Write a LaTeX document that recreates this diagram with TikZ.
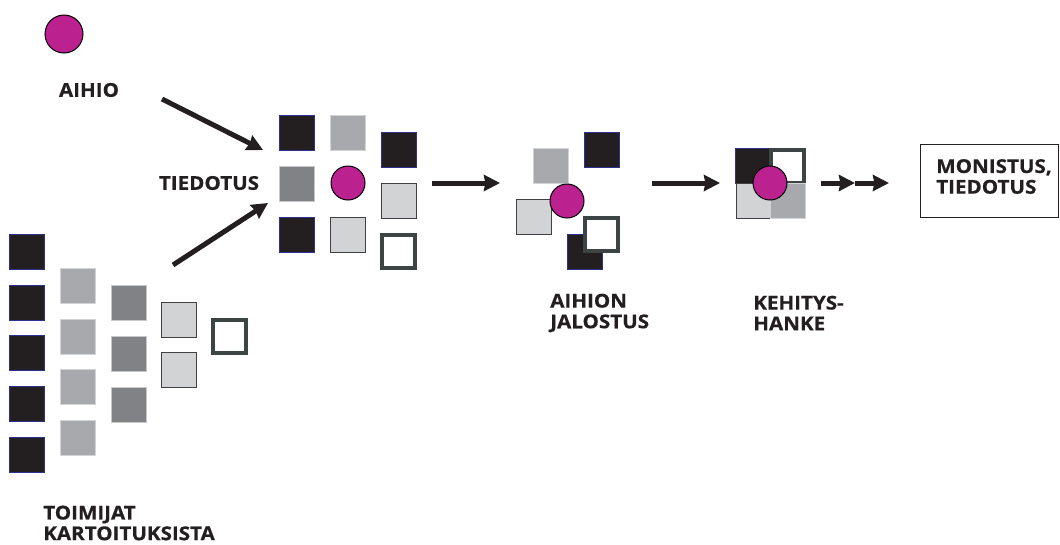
\documentclass[tikz,border=0pt]{standalone}
\usepackage{fontspec}
\setmainfont{Open Sans}[BoldFont={* Bold},BoldFeatures={FakeStretch=1.08,FakeBold=0.6}]
\usetikzlibrary{arrows.meta}
\definecolor{sqblack}{HTML}{231F20}
\definecolor{sqblue}{HTML}{2E3192}
\definecolor{sqgray}{HTML}{A7A9AC}
\definecolor{sqgrayb}{HTML}{D1D3D4}
\definecolor{sqdark}{HTML}{808285}
\definecolor{sqdarkb}{HTML}{C7C8CA}
\definecolor{sqlight}{HTML}{D1D3D4}
\definecolor{sqlightb}{HTML}{414042}
\definecolor{sqopen}{HTML}{3C4444}
\definecolor{magen}{HTML}{BB2290}
\tikzset{
  sq/.style={rectangle,minimum size=26.25pt,inner sep=0pt,line width=0.75pt},
  blk/.style={sq,fill=sqblack,draw=sqblue},
  gry/.style={sq,fill=sqgray,draw=sqgrayb},
  drk/.style={sq,fill=sqdark,draw=sqdarkb},
  lgt/.style={sq,fill=sqlight,draw=sqlightb},
  opn/.style={rectangle,minimum size=24.75pt,inner sep=0pt,line width=3pt,fill=white,draw=sqopen},
  dot/.style={circle,minimum size=25.5pt,inner sep=0pt,fill=magen,draw=black,line width=0.75pt},
  lbl/.style={font=\fontsize{14.3}{15.5}\selectfont\bfseries,text=sqblack,align=left,inner sep=0pt},
  arr/.style={draw=sqblack,line width=3.75pt,-{Stealth[length=12pt,width=12pt,inset=1pt]}},
}
\begin{document}
\begin{tikzpicture}[x=0.75pt,y=-0.75pt]
\useasboundingbox (0,0) rectangle (1060,544);
% top circle
\node[dot,minimum size=28.5pt] (aihiodot) at (64,34) {};
\node[lbl] (aihio) at (89,90) {AIHIO};
\node[lbl] (tiedotus) at (209,183) {TIEDOTUS};
% left field
\node[blk] (c11) at (26.5,251.5) {};
\node[blk] (c12) at (26.5,302.5) {};
\node[blk] (c13) at (26.5,352.5) {};
\node[blk] (c14) at (26.5,403.5) {};
\node[blk] (c15) at (26.5,454.5) {};
\node[gry] (c21) at (77.5,285.5) {};
\node[gry] (c22) at (77.5,336.5) {};
\node[gry] (c23) at (77.5,386.5) {};
\node[gry] (c24) at (77.5,437.5) {};
\node[drk] (c31) at (128.5,302.5) {};
\node[drk] (c32) at (128.5,353.5) {};
\node[drk] (c33) at (128.5,404.5) {};
\node[lgt] (c41) at (178.5,319.5) {};
\node[lgt] (c42) at (178.5,369.5) {};
\node[opn] (c51) at (229.5,336) {};
\node[lbl,anchor=west] (toimijat) at (43,523) {TOIMIJAT\\KARTOITUKSISTA};
% middle group
\node[blk] (m11) at (297,133) {};
\node[gry] (m12) at (348,133) {};
\node[blk] (m13) at (398.5,150) {};
\node[drk] (m21) at (297,184) {};
\node[dot] (m22) at (348,183) {};
\node[lgt] (m23) at (398.5,200.5) {};
\node[blk] (m31) at (297,234.5) {};
\node[lgt] (m32) at (348,234.5) {};
\node[opn] (m33) at (398,251.5) {};
% cluster 3
\node[gry] (j1) at (550.5,166) {};
\node[blk] (j2) at (601.5,150) {};
\node[lgt] (j3) at (533.5,217) {};
\node[dot] (j4) at (567,201) {};
\node[blk] (j5) at (584.5,251.5) {};
\node[opn] (j6) at (601,234.5) {};
\node[lbl,anchor=west] (jalostus) at (550,313) {AIHION\\JALOSTUS};
% cluster 4
\node[blk] (k1) at (753,166) {};
\node[opn] (k2) at (787,166) {};
\node[lgt] (k3) at (753.5,200.5) {};
\node[gry] (k4) at (788,200.5) {};
\node[dot] (k5) at (770,183) {};
\node[lbl,anchor=west] (hanke) at (753,313) {KEHITYS-\\HANKE};
% final box
\node[draw=sqblack,line width=1.1pt,rectangle,minimum width=103.5pt,minimum height=54.75pt,anchor=north west] (box) at (920,144) {};
\node[lbl,anchor=west] (monistus) at (936,176.5) {MONISTUS,\\TIEDOTUS};
% arrows
\coordinate (a1s) at (162,99);
\coordinate (a1e) at (263,150);
\coordinate (a2s) at (173,265);
\coordinate (a2e) at (268,203);
\coordinate (a3s) at (432,183);
\coordinate (a3e) at (500,183);
\coordinate (a4s) at (652,183);
\coordinate (a4e) at (720,183);
\coordinate (a5s) at (821,183);
\coordinate (a5e) at (855,183);
\coordinate (a6e) at (889,183);
\draw[arr] (a1s) -- (a1e);
\draw[arr] (a2s) -- (a2e);
\draw[arr] (a3s) -- (a3e);
\draw[arr] (a4s) -- (a4e);
\draw[arr] (a5s) -- (a5e);
\draw[arr] (a5e) -- (a6e);
\end{tikzpicture}
\end{document}
